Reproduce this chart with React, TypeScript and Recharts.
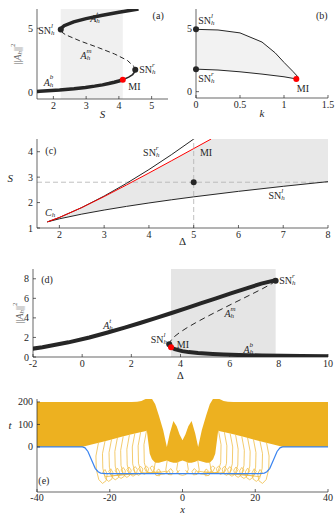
import React from "react";
import {
  ComposedChart,
  Line,
  Area,
  XAxis,
  YAxis,
  ReferenceDot,
  ReferenceLine,
} from "recharts";

type Pt = [number, number];
type Row = [number, number, number];

const FONT = '"Liberation Serif", "DejaVu Serif", serif';
const INK = "#262626";
const RED = "#ff0000";
const ORANGE = "#EDB120";
const LOOP = "#F0BE48";
const BLUE = "#3a84f0";

// ---- (a) ||A_h||^2 against S ----
const aTicksX = [2, 3, 4, 5];
const aTicksY = [0, 5];
const aLower: Pt[] = [[1.5, 0.09], [1.58, 0.1], [2.19, 0.2], [2.63, 0.3], [2.98, 0.4], [3.26, 0.5], [3.5, 0.6], [3.69, 0.7], [3.86, 0.8], [4.0, 0.9], [4.12, 1.0]];
const aLowerThin: Pt[] = [[4.12, 1.0], [4.3, 1.2], [4.42, 1.4], [4.48, 1.6], [4.5, 1.77]];
const aMiddle: Pt[] = [[4.5, 1.77], [4.47, 2.0], [4.26, 2.5], [3.87, 3.0], [3.37, 3.5], [2.83, 4.0], [2.37, 4.5], [2.26, 4.7], [2.225, 4.9]];
const aUpper: Pt[] = [[2.225, 4.9], [2.24, 5.0], [2.33, 5.2], [2.62, 5.5], [3.0, 5.75], [3.46, 6.0], [4.0, 6.25], [4.6, 6.5]];
const aShade: Row[] = [[2.225, -0.5, 6.5], [4.12, -0.5, 6.5]];

// ---- (b) ||A_h||^2 against k ----
const bTicksX = [0, 0.5, 1, 1.5];
const bTicksY = [0, 5];
const bUpper: Pt[] = [[0, 4.9], [0.25, 4.85], [0.5, 4.62], [0.75, 3.9], [0.9, 3.05], [1.0, 2.3], [1.1, 1.6], [1.16, 1.15], [1.155, 1.05], [1.14, 1.0]];
const bLower: Pt[] = [[0, 1.77], [0.25, 1.7], [0.5, 1.56], [0.75, 1.38], [1.0, 1.17], [1.14, 1.0]];
const bFill: Row[] = [[0, 1.77, 4.9], [0.25, 1.7, 4.85], [0.5, 1.56, 4.62], [0.75, 1.38, 3.9], [0.9, 1.27, 3.05], [1.0, 1.17, 2.3], [1.1, 1.05, 1.6], [1.14, 1.0, 1.3], [1.16, 1.12, 1.15]];

// ---- (c) S against Delta ----
const cTicksX = [2, 3, 4, 5, 6, 7, 8];
const cTicksY = [1, 2, 3, 4];
const cSNr: Pt[] = [[1.732, 1.241], [2, 1.414], [2.5, 1.805], [3, 2.256], [3.5, 2.756], [4, 3.298], [4.5, 3.88], [5, 4.498]];
const cSNl: Pt[] = [[1.732, 1.241], [2, 1.361], [2.5, 1.546], [3, 1.706], [3.5, 1.851], [4, 1.984], [4.5, 2.108], [5, 2.225], [6, 2.441], [7, 2.639], [8, 2.823]];
const cMI: Pt[] = [[1.732, 1.239], [2, 1.414], [2.5, 1.803], [3, 2.236], [3.5, 2.693], [4, 3.162], [4.5, 3.64], [5, 4.123], [5.39, 4.5]];
const cShade: Row[] = [[1.732, 1.241, 1.241], [2, 1.361, 1.414], [2.5, 1.546, 1.803], [3, 1.706, 2.236], [3.5, 1.851, 2.693], [4, 1.984, 3.162], [4.5, 2.108, 3.64], [5, 2.225, 4.123], [5.39, 2.31, 4.5], [6, 2.441, 4.5], [7, 2.639, 4.5], [8, 2.823, 4.5]];
const cCut: Pt = [5, 2.8];

// ---- (d) ||A_h||^2 against Delta ----
const dTicksX = [-2, 0, 2, 4, 6, 8, 10];
const dTicksY = [0, 2, 4, 6, 8];
const dUpper: Pt[] = [[-2.02, 0.85], [-1.615, 1.0], [-0.556, 1.5], [0.291, 2.0], [1.038, 2.5], [1.73, 3.0], [2.386, 3.5], [3.02, 4.0], [3.638, 4.5], [4.246, 5.0], [4.848, 5.5], [5.446, 6.0], [6.046, 6.5], [6.654, 7.0], [7.287, 7.5], [7.84, 7.84], [7.87, 7.8]];
const dMiddle: Pt[] = [[7.87, 7.8], [7.835, 7.7], [7.713, 7.5], [7.346, 7.0], [6.954, 6.5], [6.554, 6.0], [6.152, 5.5], [5.754, 5.0], [5.362, 4.5], [4.98, 4.0], [4.614, 3.5], [4.27, 3.0], [3.962, 2.5], [3.709, 2.0], [3.556, 1.5], [3.543, 1.3]];
const dLowerThin: Pt[] = [[3.543, 1.3], [3.552, 1.2], [3.615, 1.0]];
const dLower: Pt[] = [[3.615, 1.0], [3.766, 0.8], [4.074, 0.6], [4.331, 0.5], [4.713, 0.4], [5.313, 0.3], [5.76, 0.25], [6.381, 0.2], [7.31, 0.15], [8.141, 0.12], [8.898, 0.1], [10.05, 0.078]];
const dShade: Row[] = [[3.615, 0, 9], [7.87, 0, 9]];

// ---- (e) waterfall t against x (left half, the figure is mirror symmetric) ----
const eTicksX = [-40, -20, 0, 20, 40];
const eTicksY = [0, 100, 200];
const eBandLeft: Row[] = [[-40, 0, 200], [-27.7, 0, 200], [-25, 11, 200], [-23, 19, 200], [-20, 31, 200], [-17, 44, 200], [-14, 56, 200], [-12.5, 62, 201], [-11.3, 66, 204], [-10.6, 69, 210], [-9.8, 72, 215], [-9.4, 20, 215], [-9, -30, 215], [-8.4, -55, 214], [-7.5, -70, 190], [-6.5, -70, 140], [-5.3, -65, 74], [-4.3, -60, 0], [-3.5, -66, 60], [-2.5, -70, 115], [-1.6, -70, 92], [-0.8, -65, 55], [0, -60, 30]];
const eBlueLeft: Pt[] = [[-40, 0], [-27.5, 0], [-26.8, -4], [-26, -20], [-25, -58], [-24, -95], [-23.2, -110], [-22.5, -116], [-21, -118], [0, -118]];
const eLoopsLeft: Pt[][] = [
  [[-23.1, 19], [-23.8, -40], [-23.7, -100], [-23.0, -145], [-22.0, -162], [-21.0, -150], [-20.7, -120], [-21.3, -100], [-21.9, -112], [-21.2, -132], [-19.0, -128], [-16.5, -120]],
  [[-21.3, 26], [-22.0, -30], [-21.9, -95], [-21.2, -140], [-20.3, -153], [-19.4, -142], [-19.1, -115], [-19.7, -97], [-20.3, -108], [-19.6, -128], [-17.5, -126], [-15, -118]],
  [[-19.5, 34], [-20.2, -25], [-20.1, -90], [-19.4, -133], [-18.5, -146], [-17.6, -136], [-17.3, -110], [-17.9, -94], [-18.5, -105], [-17.8, -125], [-15.8, -124], [-13.5, -117]],
  [[-17.9, 40], [-18.6, -20], [-18.5, -85], [-17.8, -128], [-16.9, -140], [-16.0, -130], [-15.7, -106], [-16.3, -91], [-16.9, -102], [-16.2, -122], [-14.2, -122], [-12, -116]],
  [[-16.3, 47], [-17.0, -15], [-16.9, -82], [-16.2, -124], [-15.3, -135], [-14.4, -125], [-14.1, -103], [-14.7, -89], [-15.3, -100], [-14.6, -120], [-12.6, -120], [-10.5, -115]],
  [[-14.6, 53], [-15.3, -10], [-15.2, -80], [-14.5, -120], [-13.6, -130], [-12.7, -121], [-12.4, -100], [-13.0, -87], [-13.6, -98], [-12.9, -118], [-11, -118], [-9, -114]],
  [[-13.1, 60], [-13.8, 0], [-13.7, -75], [-13.0, -116], [-12.1, -126], [-11.2, -117], [-10.9, -98], [-11.5, -86], [-12.1, -96], [-11.4, -116], [-9.5, -116], [-7.5, -112]],
  [[-11.5, 66], [-12.2, 5], [-12.1, -72], [-11.4, -112], [-10.5, -122], [-9.6, -113], [-9.3, -96], [-9.9, -85], [-10.5, -94], [-9.8, -114], [-8, -115], [-6, -110]],
  [[-9.9, 72], [-10.6, 10], [-10.5, -70], [-9.8, -108], [-8.9, -118], [-8.0, -110], [-7.7, -94], [-8.3, -84], [-8.9, -92], [-8.2, -112], [-6.5, -113], [-4.5, -108]],
  [[-7.5, -70], [-7.9, -105], [-7.3, -126], [-6.3, -128], [-5.9, -113], [-6.5, -98], [-7.1, -106], [-6.6, -122], [-5, -120], [-3.8, -106]],
  [[-4.2, -60], [-4.6, -102], [-4.0, -122], [-3.0, -124], [-2.6, -110], [-3.2, -96], [-3.8, -104], [-3.3, -119], [-1.8, -118], [-0.8, -104]],
  [[-1.2, -60], [-1.6, -100], [-1.0, -122], [0, -126]],
];

// ---------- helpers ----------
const xy = (pts: Pt[]) => pts.map(([x, y]) => ({ x, y }));
const band = (rows: Row[]) => rows.map(([x, lo, hi]) => ({ x, r: [lo, hi] }));
const flip = (pts: Pt[]): Pt[] => pts.map(([x, y]) => [-x, y] as Pt);

const eBand: Row[] = [
  ...eBandLeft,
  ...eBandLeft.slice(0, -1).reverse().map(([x, lo, hi]) => [-x, lo, hi] as Row),
];
const eBlue: Pt[] = [...eBlueLeft, ...flip(eBlueLeft).reverse().slice(1)];
const eLoops: Pt[][] = [...eLoopsLeft, ...eLoopsLeft.map(flip)];

type Seg = { s: string; it?: boolean; pos?: "sub" | "sup"; back?: number };

const SN = (s: string): Seg[] => [{ s: "SN" }, { s: "h", it: true, pos: "sub" }, { s, it: true, pos: "sup", back: 3.6 }];
const AH = (s: string): Seg[] => [{ s: "A", it: true }, { s: "h", it: true, pos: "sub" }, { s, it: true, pos: "sup", back: 3.6 }];
const NORM: Seg[] = [{ s: "||" }, { s: "A", it: true }, { s: "h", it: true, pos: "sub" }, { s: "||" }, { s: "2", pos: "sup" }];
const CH: Seg[] = [{ s: "C", it: true }, { s: "h", it: true, pos: "sub" }];
const plain = (s: string, it = false): Seg[] => [{ s, it }];

function TexSpans({ segs, size }: { segs: Seg[]; size: number }) {
  let shift = 0;
  return (
    <>
      {segs.map((g, i) => {
        const target = g.pos === "sub" ? size * 0.3 : g.pos === "sup" ? -size * 0.42 : 0;
        const dy = target - shift;
        shift = target;
        return (
          <tspan
            key={i}
            dy={dy}
            dx={g.back ? -g.back : undefined}
            fontStyle={g.it ? "italic" : "normal"}
            fontSize={g.pos ? size * 0.7 : size}
          >
            {g.s}
          </tspan>
        );
      })}
    </>
  );
}

// text placed at a data position, drawn through the dot's shape
function tag(
  key: string,
  x: number,
  y: number,
  segs: Seg[],
  opts: { anchor?: "start" | "middle" | "end"; size?: number; color?: string; rotate?: boolean } = {}
) {
  const { anchor = "start", size = 10, color = INK, rotate = false } = opts;
  return (
    <ReferenceDot
      key={key}
      x={x}
      y={y}
      r={0}
      ifOverflow="visible"
      shape={(p: any) => (
        <text
          x={p.cx}
          y={p.cy}
          textAnchor={anchor}
          dominantBaseline="central"
          style={{ fontFamily: FONT }}
          fontSize={size}
          fill={color}
          transform={rotate ? `rotate(-90 ${p.cx} ${p.cy})` : undefined}
        >
          <TexSpans segs={segs} size={size} />
        </text>
      )}
    />
  );
}

const dot = (key: string, p: Pt, color = INK) => (
  <ReferenceDot key={key} x={p[0]} y={p[1]} r={3} fill={color} stroke="none" ifOverflow="visible" />
);

const tickBottom = (drop: number) => (p: any) => (
  <g>
    <line x1={p.x} x2={p.x} y1={p.y} y2={p.y - 3} stroke={INK} strokeWidth={0.7} />
    <text x={p.x} y={p.y + drop} textAnchor="middle" style={{ fontFamily: FONT }} fontSize={10} fill={INK}>
      {p.payload.value}
    </text>
  </g>
);
const tickLeft = (p: any) => (
  <g>
    <line x1={p.x} x2={p.x + 3} y1={p.y} y2={p.y} stroke={INK} strokeWidth={0.7} />
    <text x={p.x - 4} y={p.y} textAnchor="end" dominantBaseline="central" style={{ fontFamily: FONT }} fontSize={10} fill={INK}>
      {p.payload.value}
    </text>
  </g>
);
const tickTop = (p: any) => <line x1={p.x} x2={p.x} y1={p.y} y2={p.y + 3} stroke={INK} strokeWidth={0.7} />;
const tickRight = (p: any) => <line x1={p.x} x2={p.x - 3} y1={p.y} y2={p.y} stroke={INK} strokeWidth={0.7} />;

function frame(
  xDomain: [number, number],
  yDomain: [number, number],
  xTicks: number[],
  yTicks: number[],
  yWidth: number,
  xHeight: number,
  drop = 10
) {
  const line = { stroke: INK, strokeWidth: 0.7 };
  return [
    <XAxis key="xb" dataKey="x" type="number" domain={xDomain} ticks={xTicks} interval={0} allowDataOverflow height={xHeight} tickSize={0} tickMargin={0} tickLine={false} axisLine={line} tick={tickBottom(drop)} />,
    <XAxis key="xt" xAxisId="top" orientation="top" dataKey="x" type="number" domain={xDomain} ticks={xTicks} interval={0} allowDataOverflow height={0} tickSize={0} tickMargin={0} tickLine={false} axisLine={line} tick={tickTop} />,
    <YAxis key="yl" type="number" domain={yDomain} ticks={yTicks} interval={0} allowDataOverflow width={yWidth} tickSize={0} tickMargin={0} tickLine={false} axisLine={line} tick={tickLeft} />,
    <YAxis key="yr" yAxisId="right" orientation="right" type="number" domain={yDomain} ticks={yTicks} interval={0} allowDataOverflow width={0} tickSize={0} tickMargin={0} tickLine={false} axisLine={line} tick={tickRight} />,
  ];
}

const curve = (key: string, pts: Pt[], width: number, color = INK, dash?: string) => (
  <Line
    key={key}
    data={xy(pts)}
    dataKey="y"
    type="linear"
    stroke={color}
    strokeWidth={width}
    strokeDasharray={dash}
    dot={false}
    activeDot={false}
    isAnimationActive={false}
  />
);

const shade = (key: string, rows: Row[], color: string) => (
  <Area key={key} data={band(rows)} dataKey="r" type="linear" stroke="none" fill={color} fillOpacity={1} isAnimationActive={false} activeDot={false} />
);

export default function App() {
  return (
    <div style={{ position: "absolute", left: 0, top: 0, width: 335, height: 513, background: "#fff" }}>
      {/* (a) */}
      <div style={{ position: "absolute", left: 0, top: 0 }}>
        <ComposedChart width={170} height={120} margin={{ top: 9, right: 2, left: 0, bottom: 0 }}>
          {shade("sh", aShade, "#f0f0f0")}
          {curve("low", aLower, 3.5)}
          {curve("lowThin", aLowerThin, 1.6)}
          {curve("mid", aMiddle, 1, INK, "5 3")}
          {curve("up", aUpper, 3.5)}
          {dot("snl", [2.225, 4.9])}
          {dot("snr", [4.5, 1.77])}
          {dot("mi", [4.12, 1.0], RED)}
          {tag("t1", 1.54, 4.88, SN("l"))}
          {tag("t2", 3.27, 5.79, AH("t"), { anchor: "middle" })}
          {tag("t3", 3.0, 2.93, AH("m"), { anchor: "middle" })}
          {tag("t4", 4.62, 1.82, SN("r"))}
          {tag("t5", 4.29, 0.52, plain("MI"))}
          {tag("t6", 1.85, 0.86, AH("b"), { anchor: "middle" })}
          {tag("pa", 5.2, 6.0, plain("(a)"), { anchor: "middle" })}
          {tag("xl", 3.5, -1.7, plain("S", true), { anchor: "middle", size: 11 })}
          {tag("yl", 0.89, 3.0, NORM, { anchor: "middle", rotate: true, color: "#666" })}
          {frame([1.5, 5.5], [-0.5, 6.5], aTicksX, aTicksY, 37, 21)}
        </ComposedChart>
      </div>

      {/* (b) */}
      <div style={{ position: "absolute", left: 165, top: 0 }}>
        <ComposedChart width={170} height={120} margin={{ top: 9, right: 7, left: 0, bottom: 0 }}>
          {shade("fill", bFill, "#f2f2f2")}
          {curve("up", bUpper, 1)}
          {curve("low", bLower, 1)}
          {dot("snl", [0, 4.9])}
          {dot("snr", [0, 1.77])}
          {dot("mi", [1.14, 1.0], RED)}
          {tag("t1", 0.026, 5.65, SN("l"))}
          {tag("t2", 0.026, 1.08, SN("r"))}
          {tag("t3", 1.145, 0.27, plain("MI"))}
          {tag("pb", 1.43, 6.05, plain("(b)"), { anchor: "middle" })}
          {tag("xl", 0.75, -1.7, plain("k", true), { anchor: "middle", size: 11 })}
          {frame([0, 1.5], [-0.5, 6.5], bTicksX, bTicksY, 31, 22)}
        </ComposedChart>
      </div>

      {/* (c) */}
      <div style={{ position: "absolute", left: 0, top: 128 }}>
        <ComposedChart width={335} height={125} margin={{ top: 11, right: 7, left: 0, bottom: 0 }}>
          {shade("sh", cShade, "#e8e8e8")}
          <ReferenceLine y={cCut[1]} stroke="#b0b0b0" strokeDasharray="5 3" strokeWidth={0.8} />
          <ReferenceLine x={cCut[0]} stroke="#b0b0b0" strokeDasharray="5 3" strokeWidth={0.8} />
          {curve("snr", cSNr, 1)}
          {curve("snl", cSNl, 1)}
          {curve("mi", cMI, 1, RED)}
          {dot("cut", cCut)}
          {tag("t1", 3.87, 4.0, SN("r"))}
          {tag("t2", 5.14, 4.0, plain("MI"))}
          {tag("t3", 6.67, 2.3, SN("l"))}
          {tag("t4", 1.68, 1.62, CH)}
          {tag("pc", 1.81, 4.07, plain("(c)"), { anchor: "middle" })}
          {tag("xl", 4.75, 0.48, plain("Δ"), { anchor: "middle", size: 11 })}
          {tag("yl", 0.9, 2.97, plain("S", true), { anchor: "middle", size: 11 })}
          {frame([1.5, 8], [1, 4.5], cTicksX, cTicksY, 37, 25)}
        </ComposedChart>
      </div>

      {/* (d) */}
      <div style={{ position: "absolute", left: 0, top: 258 }}>
        <ComposedChart width={335} height={125} margin={{ top: 11, right: 7, left: 0, bottom: 0 }}>
          {shade("sh", dShade, "#e5e5e5")}
          {curve("up", dUpper, 4)}
          {curve("mid", dMiddle, 1, INK, "6 4")}
          {curve("lowThin", dLowerThin, 1.6)}
          {curve("low", dLower, 4)}
          {dot("snr", [7.87, 7.8])}
          {dot("snl", [3.543, 1.3])}
          {dot("mi", [3.615, 1.0], RED)}
          {tag("t1", 1.05, 3.27, AH("t"), { anchor: "middle" })}
          {tag("t2", 6.01, 4.5, AH("m"), { anchor: "middle" })}
          {tag("t3", 6.76, 0.8, AH("b"), { anchor: "middle" })}
          {tag("t4", 3.45, 1.85, SN("l"), { anchor: "end" })}
          {tag("t5", 3.85, 1.33, plain("MI"))}
          {tag("t6", 8.02, 7.87, SN("r"))}
          {tag("pd", -1.43, 8.0, plain("(d)"), { anchor: "middle" })}
          {tag("xl", 4.0, -1.88, plain("Δ"), { anchor: "middle", size: 10.5 })}
          {tag("yl", -2.55, 4.5, NORM, { anchor: "middle", rotate: true, color: "#666" })}
          {frame([-2, 10], [0, 9], dTicksX, dTicksY, 33, 26)}
        </ComposedChart>
      </div>

      {/* (e) */}
      <div style={{ position: "absolute", left: 0, top: 390 }}>
        <ComposedChart width={335} height={123} margin={{ top: 9, right: 7, left: 0, bottom: 0 }}>
          {shade("band", eBand, ORANGE)}
          {eLoops.map((pts, i) => curve(`loop${i}`, pts, 0.8, LOOP))}
          {curve("blue", eBlue, 1.2, BLUE)}
          {tag("pe", -38.1, -146, plain("(e)"), { anchor: "middle" })}
          {tag("xl", 0, -275, plain("x", true), { anchor: "middle", size: 10.5 })}
          {tag("yl", -47.4, 98, plain("t", true), { anchor: "middle", size: 11 })}
          {frame([-40, 40], [-200, 213], eTicksX, eTicksY, 37, 21, 8.5)}
        </ComposedChart>
      </div>
    </div>
  );
}
